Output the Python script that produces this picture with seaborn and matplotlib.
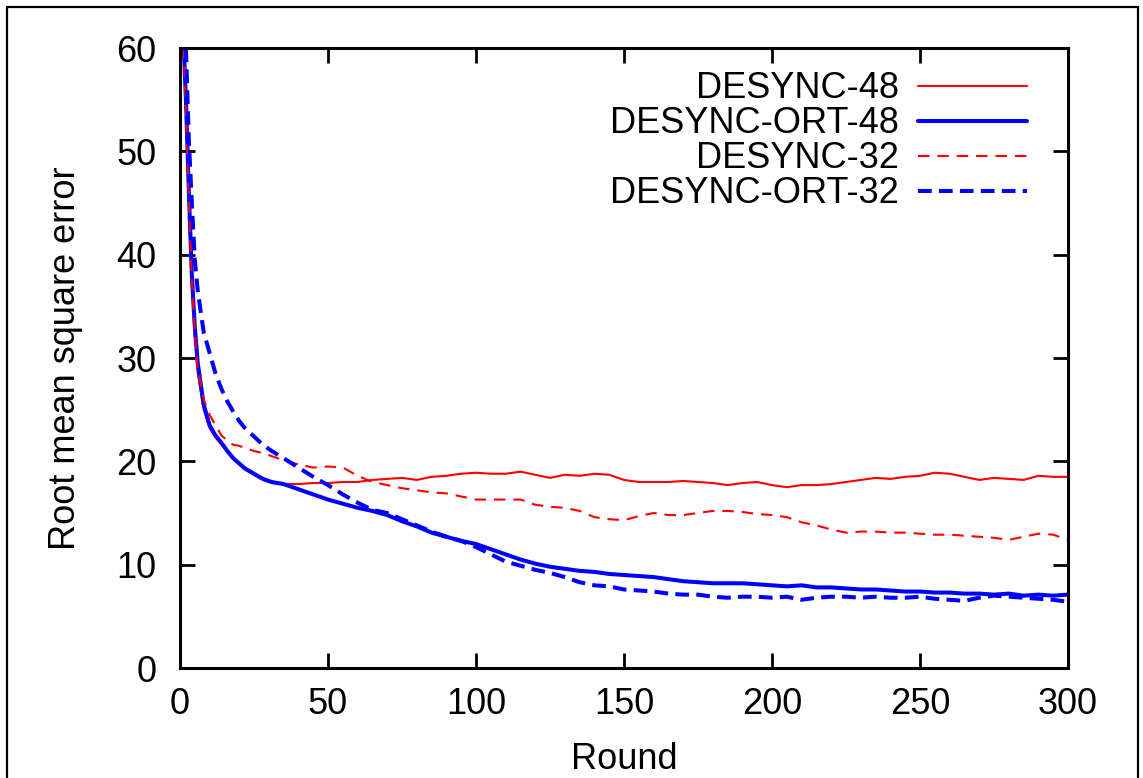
import numpy as np
import pandas as pd
import matplotlib
matplotlib.use("Agg")
import matplotlib.pyplot as plt
from matplotlib.lines import Line2D
import seaborn as sns

# ── Data ────────────────────────────────────────────────────────────────────
rounds_early = [1, 2, 3, 4, 5, 6, 8, 10, 12, 14, 16, 18, 20, 22, 25, 28, 31, 35]
rounds_late = list(range(40, 301, 5))
rounds = rounds_early + rounds_late

desync_48 = [62, 54, 45, 37, 32, 28.5, 25, 23.2, 22.3, 21.6, 20.9, 20.2, 19.7, 19.2, 18.7, 18.2, 17.9, 17.8,
             17.8, 17.9, 17.9, 18.0, 18.0, 18.2, 18.3, 18.4, 18.2, 18.5, 18.6, 18.8, 18.9, 18.8, 18.8, 19.0,
             18.7, 18.4, 18.7, 18.6, 18.8, 18.7, 18.2, 18.0, 18.0, 18.0, 18.1, 18.0, 17.9, 17.7, 17.9, 18.0,
             17.7, 17.5, 17.7, 17.7, 17.8, 18.0, 18.2, 18.4, 18.3, 18.5, 18.6, 18.9, 18.8, 18.5, 18.2, 18.4,
             18.3, 18.2, 18.6, 18.5, 18.5]

desync_ort_48 = [62, 55, 46, 38, 33, 29.5, 25.5, 23.5, 22.5, 21.8, 21.0, 20.3, 19.8, 19.3, 18.8, 18.3, 18.0, 17.8,
                 17.3, 16.8, 16.3, 15.9, 15.5, 15.2, 14.8, 14.2, 13.7, 13.1, 12.7, 12.3, 12.0, 11.5, 11.0, 10.5,
                 10.1, 9.8, 9.6, 9.4, 9.3, 9.1, 9.0, 8.9, 8.8, 8.6, 8.4, 8.3, 8.2, 8.2, 8.2, 8.1,
                 8.0, 7.9, 8.0, 7.8, 7.8, 7.7, 7.6, 7.6, 7.5, 7.4, 7.4, 7.3, 7.3, 7.2, 7.2, 7.1,
                 7.2, 7.0, 7.1, 7.0, 7.1]

desync_32 = [62, 54, 45.5, 37.5, 32.5, 29, 26, 24.5, 23.5, 22.5, 22.0, 21.6, 21.5, 21.3, 21.0, 20.8, 20.5, 20.1,
             19.7, 19.4, 19.5, 19.4, 18.6, 18.0, 17.7, 17.4, 17.2, 17.0, 16.9, 16.6, 16.3, 16.3, 16.3, 16.3,
             15.8, 15.6, 15.5, 15.2, 14.6, 14.4, 14.3, 14.7, 15.0, 14.8, 14.8, 15.0, 15.2, 15.2, 15.1, 14.9,
             14.8, 14.6, 14.1, 13.8, 13.4, 13.1, 13.2, 13.2, 13.1, 13.1, 13.0, 12.9, 12.9, 12.8, 12.7, 12.6,
             12.4, 12.7, 13.0, 12.9, 12.4]

desync_ort_32 = [64, 60, 51, 45, 39.5, 36.5, 32.5, 30.5, 28.5, 27, 25.8, 24.8, 23.9, 23.2, 22.4, 21.6, 21.0, 20.3,
                 19.4, 18.5, 17.7, 16.8, 16.0, 15.3, 15.0, 14.4, 13.8, 13.2, 12.7, 12.3, 11.7, 11.0, 10.3, 9.9,
                 9.5, 9.2, 8.8, 8.3, 8.0, 7.9, 7.6, 7.5, 7.4, 7.2, 7.1, 7.1, 6.9, 6.8, 6.9, 6.9,
                 6.8, 6.9, 6.6, 6.8, 6.9, 6.9, 6.8, 6.9, 6.8, 6.8, 6.9, 6.7, 6.6, 6.5, 6.8, 7.0,
                 6.9, 6.8, 6.7, 6.6, 6.4]

series_names = ["DESYNC-48", "DESYNC-ORT-48", "DESYNC-32", "DESYNC-ORT-32"]
series_values = [desync_48, desync_ort_48, desync_32, desync_ort_32]

# ── Style ───────────────────────────────────────────────────────────────────
sns.set_style("ticks")
plt.rcParams['font.family'] = ['Liberation Sans', 'DejaVu Sans']
plt.rcParams.update({"text.color": "black", "axes.labelcolor": "black",
                     "xtick.color": "black", "ytick.color": "black",
                     "axes.edgecolor": "black"})

styles = {
    "DESYNC-48":     dict(color="#ff0000", lw=1.5, dashes=None),
    "DESYNC-ORT-48": dict(color="#0000ff", lw=2.9, dashes=None),
    "DESYNC-32":     dict(color="#ff0000", lw=1.5, dashes=(5.5, 3.8)),
    "DESYNC-ORT-32": dict(color="#0000ff", lw=2.9, dashes=(3.4, 1.8)),
}

fig = plt.figure(figsize=(11.43, 7.78), dpi=100)
ax = fig.add_axes([180 / 1143, 1 - 668 / 778, 888 / 1143, 620 / 778])

for name, vals in zip(series_names, series_values):
    st = styles[name]
    sns.lineplot(x=rounds, y=vals, color=st["color"], lw=st["lw"], label=name, ax=ax)
    line = ax.lines[-1]
    if st["dashes"] is not None:
        line.set_dashes(st["dashes"])

fs = 26
ax.set_xlim(0, 300)
ax.set_ylim(0, 60)
ax.set_xticks(range(0, 301, 50))
ax.set_yticks(range(0, 61, 10))
ax.set_xlabel("Round", fontsize=fs, labelpad=14)
ax.set_ylabel("Root mean square error", fontsize=fs, labelpad=24)
ax.tick_params(direction="in", length=11, width=2, labelsize=fs,
               top=True, right=True)
ax.tick_params(axis="y", pad=17)
ax.tick_params(axis="x", pad=14)
for sp in ax.spines.values():
    sp.set_visible(True)
    sp.set_linewidth(2.2)

leg = ax.legend(loc="upper right", bbox_to_anchor=(0.98, 1.0), markerfirst=False, frameon=False,
                fontsize=fs, handlelength=3.0, labelspacing=0.0, handletextpad=0.55,
                borderaxespad=0.25)

# outer frame of the figure
for xs, ys in [((7 / 1143, 7 / 1143), (0, 1 - 7 / 778)),
               ((7 / 1143, 1138 / 1143), (1 - 7 / 778, 1 - 7 / 778)),
               ((1138 / 1143, 1138 / 1143), (1 - 7 / 778, 0))]:
    fig.add_artist(Line2D(xs, ys, color="black", lw=1.6, transform=fig.transFigure))

fig.savefig("out.png", dpi=100)
